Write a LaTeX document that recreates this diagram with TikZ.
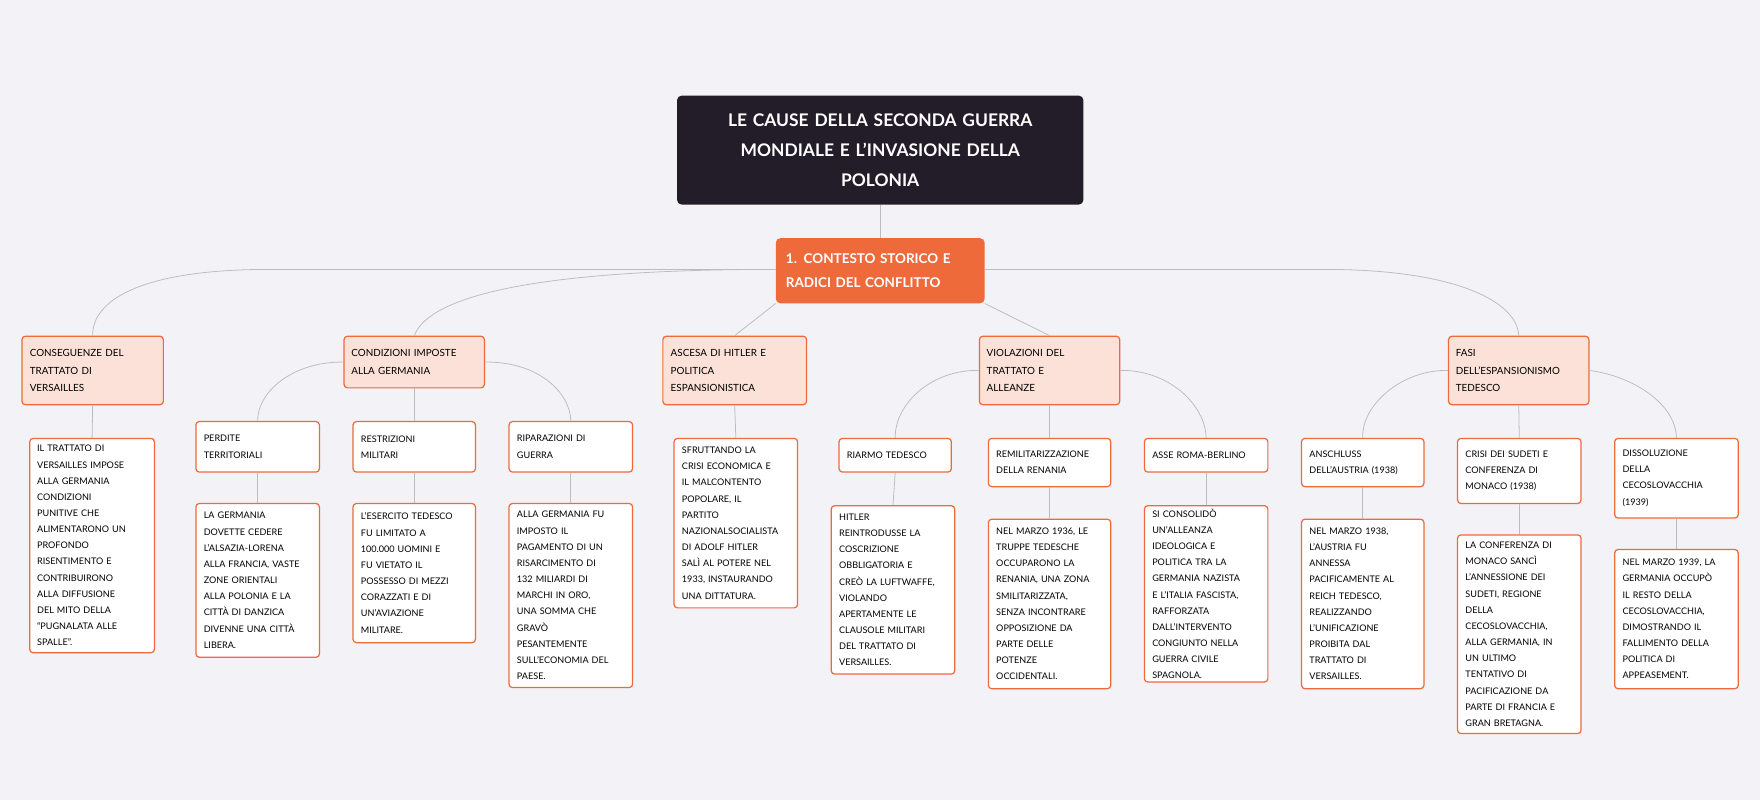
\documentclass[tikz,border=0pt]{standalone}
\usepackage{fontspec}
\setmainfont{Lato}
\definecolor{bg}{HTML}{F3F2F7}
\definecolor{org}{HTML}{EE6A3A}
\definecolor{lfill}{HTML}{FBE1D7}
\definecolor{dark}{HTML}{231D2A}
\definecolor{ln}{HTML}{BDBCC4}
\begin{document}
\begin{tikzpicture}[x=1pt,y=-1pt,
 box/.style={anchor=north west,draw=org,line width=1.1pt,rounded corners=3pt,align=left,inner sep=0pt,font=\fontsize{8.1}{14.4}\selectfont},
 lvl/.style={box,fill=lfill,font=\fontsize{8.8}{15.5}\selectfont},
 det/.style={box,fill=white},
 con/.style={draw=ln,line width=0.7pt}]
\fill[bg] (0,0) rectangle (1568,713);
\useasboundingbox (0,0) rectangle (1568,713);
\newcommand{\bx}[7]{\node[#1,minimum width=#4,minimum height=#5,text width=#6] (#2) at (#3) {#7};}
\node[anchor=north west,fill=dark,rounded corners=4pt,minimum width=362,minimum height=97,text width=340,align=center,text=white,font=\bfseries\fontsize{15.5}{27}\selectfont,inner sep=0pt] (t) at (603,85) {LE CAUSE DELLA SECONDA GUERRA\\MONDIALE E L'INVASIONE DELLA\\POLONIA};
\node[anchor=north west,fill=org,rounded corners=4pt,minimum width=186,minimum height=58,text width=176,align=left,text=white,font=\bfseries\fontsize{12}{21}\selectfont,inner sep=0pt] (m) at (691,212) {\hspace*{4pt}1. CONTESTO STORICO E\\\hspace*{4pt}RADICI DEL CONFLITTO};
\bx{lvl}{A}{19,299}{126}{61}{112}{CONSEGUENZE DEL\\TRATTATO DI\\VERSAILLES}
\bx{lvl}{B}{306,299}{125}{46}{112}{CONDIZIONI IMPOSTE\\ALLA GERMANIA}
\bx{lvl}{C}{590,299}{128}{61}{114}{ASCESA DI HITLER E\\POLITICA\\ESPANSIONISTICA}
\bx{lvl}{D}{872,299}{125}{61}{112}{VIOLAZIONI DEL\\TRATTATO E\\ALLEANZE}
\bx{lvl}{E}{1290,299}{125}{61}{112}{FASI\\DELL'ESPANSIONISMO\\TEDESCO}
\bx{det}{A1}{26,390}{111}{191}{98}{IL TRATTATO DI\\VERSAILLES IMPOSE\\ALLA GERMANIA\\CONDIZIONI\\PUNITIVE CHE\\ALIMENTARONO UN\\PROFONDO\\RISENTIMENTO E\\CONTRIBUIRONO\\ALLA DIFFUSIONE\\DEL MITO DELLA\\``PUGNALATA ALLE\\SPALLE''.}
\bx{det}{B1}{174,375}{110}{45}{96}{PERDITE\\TERRITORIALI}
\bx{det}{B1d}{174,448}{110}{137}{96}{LA GERMANIA\\DOVETTE CEDERE\\L'ALSAZIA-LORENA\\ALLA FRANCIA, VASTE\\ZONE ORIENTALI\\ALLA POLONIA E LA\\CITTÀ DI DANZICA\\DIVENNE UNA CITTÀ\\LIBERA.}
\bx{det}{B2}{314,375}{109}{45}{95}{RESTRIZIONI\\MILITARI}
\bx{det}{B2d}{314,448}{109}{124}{95}{L'ESERCITO TEDESCO\\FU LIMITATO A\\100.000 UOMINI E\\FU VIETATO IL\\POSSESSO DI MEZZI\\CORAZZATI E DI\\UN'AVIAZIONE\\MILITARE.}
\bx{det}{B3}{453,375}{110}{45}{96}{RIPARAZIONI DI\\GUERRA}
\bx{det}{B3d}{453,448}{110}{164}{96}{ALLA GERMANIA FU\\IMPOSTO IL\\PAGAMENTO DI UN\\RISARCIMENTO DI\\132 MILIARDI DI\\MARCHI IN ORO,\\UNA SOMMA CHE\\GRAVÒ\\PESANTEMENTE\\SULL'ECONOMIA DEL\\PAESE.}
\bx{det}{C1}{600,390}{110}{151}{96}{SFRUTTANDO LA\\CRISI ECONOMICA E\\IL MALCONTENTO\\POPOLARE, IL\\PARTITO\\NAZIONALSOCIALISTA\\DI ADOLF HITLER\\SALÌ AL POTERE NEL\\1933, INSTAURANDO\\UNA DITTATURA.}
\bx{det}{D1}{747,390}{100}{30}{86}{RIARMO TEDESCO}
\bx{det}{D1d}{740,450}{110}{150}{96}{HITLER\\REINTRODUSSE LA\\COSCRIZIONE\\OBBLIGATORIA E\\CREÒ LA LUFTWAFFE,\\VIOLANDO\\APERTAMENTE LE\\CLAUSOLE MILITARI\\DEL TRATTATO DI\\VERSAILLES.}
\bx{det}{D2}{880,390}{109}{43}{95}{REMILITARIZZAZIONE\\DELLA RENANIA}
\bx{det}{D2d}{880,462}{109}{151}{95}{NEL MARZO 1936, LE\\TRUPPE TEDESCHE\\OCCUPARONO LA\\RENANIA, UNA ZONA\\SMILITARIZZATA,\\SENZA INCONTRARE\\OPPOSIZIONE DA\\PARTE DELLE\\POTENZE\\OCCIDENTALI.}
\bx{det}{D3}{1019,390}{110}{30}{96}{ASSE ROMA-BERLINO}
\bx{det}{D3d}{1019,450}{110}{157}{96}{SI CONSOLIDÒ\\UN'ALLEANZA\\IDEOLOGICA E\\POLITICA TRA LA\\GERMANIA NAZISTA\\E L'ITALIA FASCISTA,\\RAFFORZATA\\DALL'INTERVENTO\\CONGIUNTO NELLA\\GUERRA CIVILE\\SPAGNOLA.}
\bx{det}{E1}{1159,390}{109}{43}{95}{ANSCHLUSS\\DELL'AUSTRIA (1938)}
\bx{det}{E1d}{1159,462}{109}{151}{95}{NEL MARZO 1938,\\L'AUSTRIA FU\\ANNESSA\\PACIFICAMENTE AL\\REICH TEDESCO,\\REALIZZANDO\\L'UNIFICAZIONE\\PROIBITA DAL\\TRATTATO DI\\VERSAILLES.}
\bx{det}{E2}{1298,390}{110}{58}{96}{CRISI DEI SUDETI E\\CONFERENZA DI\\MONACO (1938)}
\bx{det}{E2d}{1298,476}{110}{177}{96}{LA CONFERENZA DI\\MONACO SANCÌ\\L'ANNESSIONE DEI\\SUDETI, REGIONE\\DELLA\\CECOSLOVACCHIA,\\ALLA GERMANIA, IN\\UN ULTIMO\\TENTATIVO DI\\PACIFICAZIONE DA\\PARTE DI FRANCIA E\\GRAN BRETAGNA.}
\bx{det}{E3}{1438,390}{110}{71}{96}{DISSOLUZIONE\\DELLA\\CECOSLOVACCHIA\\(1939)}
\bx{det}{E3d}{1438,489}{110}{124}{96}{NEL MARZO 1939, LA\\GERMANIA OCCUPÒ\\IL RESTO DELLA\\CECOSLOVACCHIA,\\DIMOSTRANDO IL\\FALLIMENTO DELLA\\POLITICA DI\\APPEASEMENT.}
\draw[con] (t.south) -- (m.north);
\draw[con] (m.west|-0,240) -- (240,240) .. controls (120,240) and (82,270) .. (A.north);
\draw[con] (m.west|-0,240) .. controls (450,240) and (380,270) .. (B.north);
\draw[con] (m.south west) -- (C.north);
\draw[con] (m.south east) -- (D.north);
\draw[con] (m.east|-0,240) -- (1180,240) .. controls (1300,240) and (1352,270) .. (E.north);
\draw[con] (A.south) -- (A1.north);
\draw[con] (C.south) -- (C1.north);
\draw[con] (B.west) .. controls (260,322) and (229,350) .. (B1.north);
\draw[con] (B.south) -- (B2.north);
\draw[con] (B.east) .. controls (480,322) and (508,350) .. (B3.north);
\draw[con] (D.west) .. controls (830,329) and (797,360) .. (D1.north);
\draw[con] (D.south) -- (D2.north);
\draw[con] (D.east) .. controls (1040,329) and (1074,360) .. (D3.north);
\draw[con] (E.west) .. controls (1250,329) and (1213,360) .. (E1.north);
\draw[con] (E.south) -- (E2.north);
\draw[con] (E.east) .. controls (1455,335) and (1493,360) .. (E3.north);
\foreach \a in {B1,B2,B3,D1,D2,D3,E1,E2,E3}{\draw[con] (\a.south) -- (\a d.north);}
\end{tikzpicture}
\end{document}
